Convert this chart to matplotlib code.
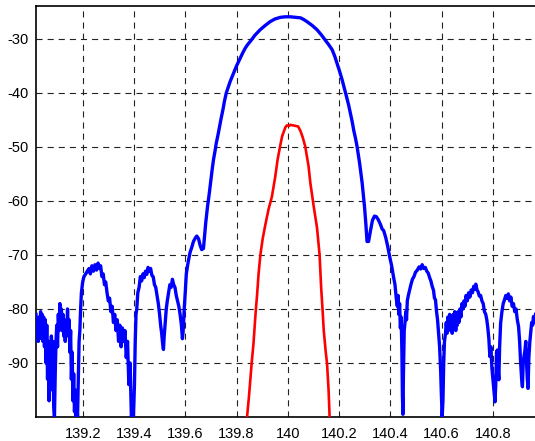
import matplotlib
matplotlib.use("Agg")
import matplotlib.pyplot as plt

# ---- data ----
blue_x = [
    139.018, 139.021, 139.024, 139.027, 139.030, 139.033, 139.036, 139.039, 139.042, 139.045,
    139.048, 139.051, 139.054, 139.057, 139.060, 139.063, 139.066, 139.069, 139.072, 139.075,
    139.078, 139.081, 139.084, 139.087, 139.090, 139.093, 139.096, 139.099, 139.102, 139.105,
    139.108, 139.111, 139.114, 139.117, 139.120, 139.123, 139.126, 139.129, 139.132, 139.135,
    139.138, 139.141, 139.144, 139.147, 139.150, 139.153, 139.156, 139.159, 139.162, 139.165,
    139.168, 139.171, 139.174, 139.177, 139.180, 139.183, 139.186, 139.189, 139.192, 139.195,
    139.200, 139.205, 139.212, 139.218, 139.225, 139.230, 139.236, 139.242, 139.248, 139.254,
    139.260, 139.265, 139.270, 139.275, 139.280, 139.285, 139.290, 139.295, 139.300, 139.305,
    139.310, 139.315, 139.320, 139.325, 139.330, 139.335, 139.340, 139.345, 139.350, 139.355,
    139.360, 139.365, 139.370, 139.375, 139.380, 139.385, 139.390, 139.395, 139.398, 139.402,
    139.405, 139.408, 139.411, 139.415, 139.420, 139.425, 139.430, 139.435, 139.440, 139.445,
    139.450, 139.455, 139.460, 139.465, 139.470, 139.475, 139.480, 139.485, 139.490, 139.495,
    139.500, 139.504, 139.508, 139.512, 139.515, 139.518, 139.522, 139.526, 139.530, 139.535,
    139.540, 139.545, 139.550, 139.555, 139.560, 139.565, 139.570, 139.575, 139.580, 139.585,
    139.589, 139.592, 139.596, 139.600, 139.604, 139.609, 139.613, 139.619, 139.626, 139.632,
    139.640, 139.645, 139.652, 139.658, 139.664, 139.671, 139.676, 139.680, 139.687, 139.694,
    139.700, 139.705, 139.710, 139.716, 139.721, 139.728, 139.734, 139.740, 139.747, 139.753,
    139.760, 139.768, 139.775, 139.782, 139.788, 139.800, 139.814, 139.824, 139.834, 139.844,
    139.853, 139.872, 139.892, 139.912, 139.931, 139.950, 139.971, 139.990, 140.010, 140.030,
    140.050, 140.062, 140.075, 140.095, 140.114, 140.130, 140.146, 140.160, 140.173, 140.183,
    140.192, 140.202, 140.212, 140.221, 140.229, 140.237, 140.244, 140.251, 140.257, 140.264,
    140.270, 140.275, 140.280, 140.285, 140.290, 140.295, 140.299, 140.304, 140.309, 140.315,
    140.322, 140.330, 140.338, 140.345, 140.352, 140.360, 140.368, 140.374, 140.382, 140.390,
    140.398, 140.405, 140.412, 140.418, 140.423, 140.427, 140.430, 140.433, 140.436, 140.439,
    140.442, 140.445, 140.447, 140.449, 140.451, 140.454, 140.457, 140.460, 140.463, 140.466,
    140.470, 140.475, 140.480, 140.486, 140.492, 140.498, 140.505, 140.512, 140.518, 140.524,
    140.530, 140.536, 140.542, 140.548, 140.553, 140.558, 140.563, 140.568, 140.572, 140.576,
    140.580, 140.584, 140.588, 140.592, 140.596, 140.599, 140.602, 140.605, 140.608, 140.611,
    140.615, 140.618, 140.621, 140.624, 140.628, 140.631, 140.635, 140.638, 140.641, 140.645,
    140.648, 140.651, 140.655, 140.658, 140.661, 140.664, 140.667, 140.671, 140.675, 140.679,
    140.683, 140.687, 140.691, 140.695, 140.700, 140.705, 140.710, 140.715, 140.720, 140.725,
    140.730, 140.733, 140.738, 140.742, 140.747, 140.752, 140.757, 140.762, 140.767, 140.772,
    140.776, 140.780, 140.784, 140.788, 140.792, 140.796, 140.800, 140.804, 140.808, 140.811,
    140.814, 140.817, 140.820, 140.823, 140.826, 140.830, 140.835, 140.840, 140.845, 140.850,
    140.855, 140.860, 140.865, 140.870, 140.875, 140.880, 140.885, 140.890, 140.895, 140.900,
    140.904, 140.908, 140.912, 140.915, 140.918, 140.922, 140.925, 140.928, 140.931, 140.934,
    140.937, 140.940, 140.944, 140.947, 140.951, 140.955, 140.958, 140.962, 140.966,
]
blue_y = [
    -81, -85, -82, -86, -81.5, -84, -80.5, -85.5, -81, -86,
    -81.5, -87, -82, -90, -83, -93, -86, -97, -88, -95,
    -85, -92, -86, -98, -100, -92, -86, -83, -87, -81,
    -84, -79, -83, -80, -84, -81, -85, -82, -86, -83,
    -84.5, -80, -85, -82, -88, -84, -93, -88, -97, -92,
    -99, -95, -100, -97, -100, -93, -86, -84, -80, -77,
    -75, -74, -73.5, -73, -72.5, -73.5, -72, -73, -71.8, -72.8,
    -71.5, -72.5, -72, -74, -73.5, -75.5, -75, -77, -78.5, -78,
    -80.5, -79.5, -82.5, -81, -84, -82, -86, -83, -87, -83.5,
    -86, -84, -89, -86, -94, -90, -100, -98, -100, -94,
    -86, -81, -80, -77, -76, -74, -74.8, -73.5, -74.2, -73,
    -73.6, -72.3, -73, -72.5, -73.8, -74, -75.5, -76, -77.5, -79,
    -81, -83, -84.5, -86.5, -87.5, -85, -82.5, -80, -78.5, -77,
    -75.5, -76, -74.5, -75.5, -76, -77.5, -78.5, -79.5, -81, -83,
    -85.5, -84, -80, -77, -73.6, -72, -70.9, -69.5, -68.5, -67.5,
    -66.8, -66.5, -67, -68.2, -69, -68.8, -66, -64, -61, -58.5,
    -56.1, -54.2, -52.4, -50.8, -49.3, -47.7, -46.2, -44.7, -43.1, -41.5,
    -40, -38.9, -37.9, -37.1, -36.4, -35, -33.6, -32.6, -31.7, -31.0,
    -30.5, -29.3, -28.3, -27.5, -26.8, -26.3, -26.0, -25.9, -25.9, -26.0,
    -26.1, -26.4, -26.8, -27.5, -28.3, -29.2, -30.2, -31.1, -32.0, -33.2,
    -34.5, -36.0, -37.6, -39.2, -40.7, -42.2, -43.8, -45.3, -46.9, -48.4,
    -49.9, -51.4, -53, -54.8, -56.7, -59, -61, -64, -67.5, -67.5,
    -65.6, -63.6, -62.8, -62.9, -63.4, -64.2, -65.2, -65.5, -66.8, -68.5,
    -70.5, -72, -74, -75.5, -78, -79.5, -77.5, -81, -79, -83.5,
    -81.5, -88, -96, -99.5, -92, -84, -82.5, -80.5, -82, -78.5,
    -77.5, -76.5, -75.5, -74.5, -74, -73.2, -72.8, -72.2, -72.6, -71.8,
    -72.5, -72.3, -73, -73.4, -74.2, -74.8, -75.8, -76.5, -78, -78.3,
    -80.5, -82, -84.5, -87, -91.3, -96, -100, -97, -90, -86,
    -84.5, -82.5, -84.5, -81.5, -83.5, -81, -84, -81.5, -84.5, -81,
    -83.5, -80.5, -84, -81, -83, -80.5, -82.5, -80, -81.5, -79,
    -80, -78.5, -79.5, -77.5, -78.5, -77, -77.8, -76.5, -77, -75.8,
    -76.3, -75.4, -76.5, -76.8, -77.6, -77.5, -78.5, -79, -80.5, -81,
    -82, -83.5, -85.5, -88.8, -87, -91, -93, -95, -97.2, -94,
    -88, -87.6, -91, -93.1, -87, -82.6, -80.5, -79, -78.3, -77.5,
    -78, -77.2, -78.5, -77.8, -79.5, -79, -80.5, -80, -82, -83.3,
    -86, -90, -93, -94.4, -90, -88.5, -87.6, -86, -90, -93,
    -94.7, -89, -86, -84.5, -82.5, -83, -81.4, -82.5, -81,
]

red_x = [
    139.841, 139.848, 139.854, 139.860, 139.866, 139.874, 139.880, 139.886, 139.893, 139.902,
    139.912, 139.925, 139.938, 139.951, 139.960, 139.971, 139.978, 139.984, 139.991, 139.997,
    140.005, 140.010, 140.020, 140.030, 140.040, 140.049, 140.058, 140.068, 140.081, 140.088,
    140.101, 140.114, 140.124, 140.130, 140.136, 140.140, 140.148, 140.153, 140.159, 140.163,
]
red_y = [
    -100, -96.5, -93, -89.5, -86.5, -81, -77.5, -73.5, -70, -67,
    -64.5, -61.5, -59.2, -55.5, -52.4, -49.6, -48, -47.2, -46.3, -46.0,
    -46.1, -45.9, -46.0, -46.1, -46.2, -47.0, -48.2, -49.9, -53.6, -56.7,
    -61, -65, -70, -76, -80.5, -83.9, -88, -90.1, -95, -100,
]

x_ticks = [139.2, 139.4, 139.6, 139.8, 140.0, 140.2, 140.4, 140.6, 140.8]
x_tick_labels = ["139.2", "139.4", "139.6", "139.8", "140", "140.2", "140.4", "140.6", "140.8"]
y_ticks = [-90, -80, -70, -60, -50, -40, -30]
y_tick_labels = ["-90", "-80", "-70", "-60", "-50", "-40", "-30"]

# ---- figure ----
W, H = 535, 441
fig = plt.figure(figsize=(W / 100, H / 100), dpi=100)
ax = fig.add_axes([36 / W, (H - 417) / H, (535 - 36) / W, (417 - 6) / H])

ax.plot(blue_x, blue_y, color="#0000ff", lw=2.4, solid_joinstyle="round", zorder=3)
ax.plot(red_x, red_y, color="#ff0000", lw=1.9, solid_joinstyle="round", zorder=4)

ax.set_xlim(139.018, 140.964)
ax.set_ylim(-100, -23.9)
ax.set_xticks(x_ticks)
ax.set_xticklabels(x_tick_labels)
ax.set_yticks(y_ticks)
ax.set_yticklabels(y_tick_labels)

for lab in ax.get_xticklabels() + ax.get_yticklabels():
    lab.set_family("Liberation Sans")
    lab.set_fontsize(10.5)
ax.tick_params(axis="both", length=0, colors="black")
ax.tick_params(axis="x", pad=7)
ax.tick_params(axis="y", pad=5)

ax.grid(True, color="#222222", lw=0.8, linestyle=(0, (5.5, 4.5)), zorder=1)
ax.set_axisbelow(True)

for s in ("left", "top", "bottom"):
    ax.spines[s].set_linewidth(1.2)
    ax.spines[s].set_color("black")
ax.spines["right"].set_visible(False)

fig.savefig("out.png", dpi=100)
